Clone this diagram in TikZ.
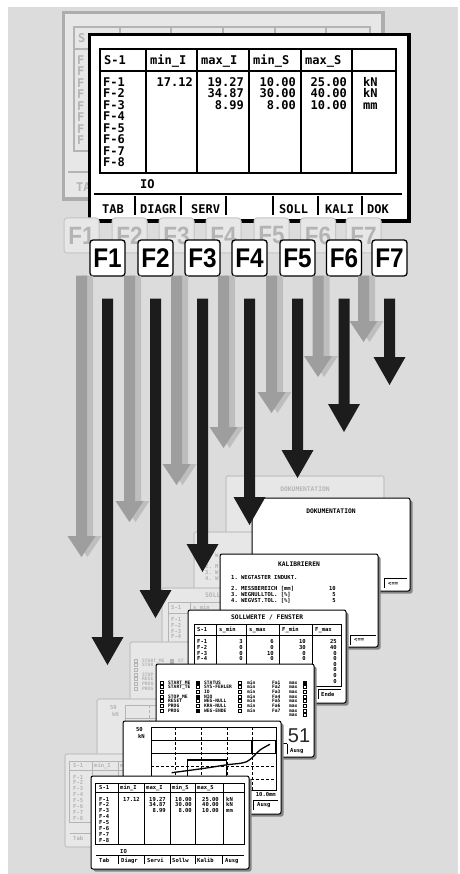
\documentclass[tikz,border=0pt]{standalone}
\usepackage{fontspec}
\usetikzlibrary{calc}
\newfontfamily\lcdfam{DejaVu Sans Mono}
\newfontfamily\keyfam[FakeStretch=0.9]{Liberation Sans}
\newfontfamily\numfam{Liberation Sans}
\definecolor{bgc}{HTML}{DCDCDC}
\definecolor{fadefill}{HTML}{E7E7E7}
\definecolor{fadeline}{HTML}{C4C4C4}
\definecolor{fadeink}{HTML}{B4B4B4}
\definecolor{topfadeframe}{HTML}{ADADAD}
\definecolor{shadowc}{HTML}{858585}
\definecolor{arrowblack}{HTML}{1C1C1C}
\definecolor{arrowgray}{HTML}{9E9E9E}
\definecolor{arrowlight}{HTML}{BEBEBE}
\colorlet{ink}{black}
\newif\iffadedmode
\newcommand\fTop{\lcdfam\bfseries\fontsize{12}{14}\selectfont}
\newcommand\fSmall{\lcdfam\bfseries\fontsize{5.5}{6}\selectfont}
\newcommand\fTitle{\lcdfam\bfseries\fontsize{6.3}{7}\selectfont}
\newcommand\fKal{\lcdfam\bfseries\fontsize{5.5}{6}\selectfont}
\newcommand\fStat{\lcdfam\bfseries\fontsize{4.6}{5}\selectfont}
\newcommand\fKeyFront{\keyfam\bfseries\fontsize{27}{27}\selectfont}
\newcommand\fKeyFade{\keyfam\bfseries\fontsize{25}{25}\selectfont}
\newcommand\fBig{\numfam\fontsize{20}{20}\selectfont}
% text node: options, name, x, y, full text, text shown in the faded copy (empty = hidden there)
\newcommand\tx[6]{%
  \iffadedmode
    \if\relax\detokenize{#6}\relax\else\node[#1] (#2) at (#3,{#4}) {#6};\fi
  \else
    \node[#1] (#2) at (#3,{#4}) {#5};
  \fi}
\tikzset{
  lt/.style={inner sep=0pt, anchor=base west, text=ink},
  rt/.style={inner sep=0pt, anchor=base east, text=ink},
  ct/.style={inner sep=0pt, anchor=base, text=ink},
  ln/.style={draw=ink, line width=0.8pt},
  fkey/.style={draw=black, line width=1.3pt, fill=white, rounded corners=3pt,
    minimum width=35pt, minimum height=36pt, inner sep=0pt, font=\fKeyFront},
  fkeyf/.style={draw=fadeline, line width=1pt, fill=fadefill, text=fadeink, rounded corners=3pt,
    minimum width=35pt, minimum height=35pt, inner sep=0pt, font=\fKeyFade},
}
% ---------- screen contents ----------
\newcommand\cTop{%
  \draw[ink, line width=1.2pt] (100,49) rectangle (396,173) (100,71) -- (396,71);
  \foreach \cx in {146,197,249,301,352} {\draw[ink, line width=1.2pt] (\cx,49) -- (\cx,173);}
  \draw[ink, line width=1.2pt] (94,194) -- (402,194);
  \foreach \cx in {135,181,226,273,318,362} {\draw[ink, line width=1.2pt] (\cx,196) -- (\cx,215);}
  \tx{lt,font=\fTop}{h1}{104}{64.4}{S-1}{S}
  \tx{lt,font=\fTop}{h2}{150}{64.4}{min\_I}{}
  \tx{lt,font=\fTop}{h3}{201}{64.4}{max\_I}{}
  \tx{lt,font=\fTop}{h4}{253}{64.4}{min\_S}{}
  \tx{lt,font=\fTop}{h5}{305}{64.4}{max\_S}{}
  \foreach \ii in {1,...,8} {\tx{lt,font=\fTop}{f\ii}{103}{86.1+11.54*(\ii-1)}{F-\ii}{F}}
  \tx{rt,font=\fTop}{a1}{193}{86.1}{17.12}{}
  \tx{rt,font=\fTop}{b1}{244}{86.1}{19.27}{}
  \tx{rt,font=\fTop}{b2}{244}{97.6}{34.87}{}
  \tx{rt,font=\fTop}{b3}{244}{109.2}{8.99}{}
  \tx{rt,font=\fTop}{c1}{296}{86.1}{10.00}{}
  \tx{rt,font=\fTop}{c2}{296}{97.6}{30.00}{}
  \tx{rt,font=\fTop}{c3}{296}{109.2}{8.00}{}
  \tx{rt,font=\fTop}{d1}{347}{86.1}{25.00}{}
  \tx{rt,font=\fTop}{d2}{347}{97.6}{40.00}{}
  \tx{rt,font=\fTop}{d3}{347}{109.2}{10.00}{}
  \tx{lt,font=\fTop}{e1}{363}{86.1}{kN}{}
  \tx{lt,font=\fTop}{e2}{363}{97.6}{kN}{}
  \tx{lt,font=\fTop}{e3}{363}{109.2}{mm}{}
  \tx{lt,font=\fTop}{io}{140}{188.4}{IO}{}
  \tx{lt,font=\fTop}{k1}{102}{213.4}{TAB}{TA}
  \tx{lt,font=\fTop}{k2}{140}{213.4}{DIAGR}{}
  \tx{lt,font=\fTop}{k3}{191}{213.4}{SERV}{}
  \tx{lt,font=\fTop}{k5}{279}{213.4}{SOLL}{}
  \tx{lt,font=\fTop}{k6}{325}{213.4}{KALI}{}
  \tx{lt,font=\fTop}{k7}{367}{213.4}{DOK}{}
}
\newcommand\cDok{%
  \tx{ct,font=\fTitle}{title}{79}{15.3}{DOKUMENTATION}{DOKUMENTATION}
  \draw[ln] (132,80) -- (155,80) (132,80) -- (132,90);
  \tx{lt,font=\fSmall}{back}{136}{87}{<==}{}
}
\newcommand\cKal{%
  \tx{ct,font=\fTitle}{title}{79}{12.3}{KALIBRIEREN}{}
  \tx{lt,font=\fKal}{l1}{11}{25.2}{1.~WEGTASTER INDUKT.}{1.~W}
  \tx{lt,font=\fKal}{l2}{11}{36.2}{2.~MESSBEREICH [mm]}{2.~M}
  \tx{rt,font=\fKal}{v2}{116}{36.2}{10}{}
  \tx{lt,font=\fKal}{l3}{11}{42.2}{3.~WEGNULLTOL. [\%]}{3.~W}
  \tx{rt,font=\fKal}{v3}{116}{42.2}{5}{}
  \tx{lt,font=\fKal}{l4}{11}{48.2}{4.~WEGVST.TOL. [\%]}{4.~W}
  \tx{rt,font=\fKal}{v4}{116}{48.2}{5}{}
  \draw[ln] (130,81) -- (156,81) (130,81) -- (130,91);
  \tx{lt,font=\fSmall}{back}{134}{87}{<==}{}
}
\newcommand\cSol{%
  \tx{lt,font=\fTitle}{title}{43}{9.3}{SOLLWERTE / FENSTER}{SOLLW}
  \draw[ln] (6,14) rectangle (153,76) (6,25) -- (153,25);
  \foreach \cx in {28,58,91,124} {\draw[ln] (\cx,14) -- (\cx,76);}
  \tx{lt,font=\fSmall}{h1}{9}{21.8}{S-1}{S-1}
  \tx{lt,font=\fSmall}{h2}{31}{21.8}{s\_min}{s\_min}
  \tx{lt,font=\fSmall}{h3}{61}{21.8}{s\_max}{}
  \tx{lt,font=\fSmall}{h4}{94}{21.8}{F\_min}{}
  \tx{lt,font=\fSmall}{h5}{127}{21.8}{F\_max}{}
  \foreach \ii/\va/\vb/\vc/\vd in {1/3/6/10/25,2/0/0/30/40,3/0/10/0/0,4/0/0/0/0} {
    \tx{lt,font=\fSmall}{f\ii}{9}{33.8+5.6*(\ii-1)}{F-\ii}{F-\ii}
    \tx{rt,font=\fSmall}{a\ii}{55}{33.8+5.6*(\ii-1)}{\va}{}
    \tx{rt,font=\fSmall}{b\ii}{86}{33.8+5.6*(\ii-1)}{\vb}{}
    \tx{rt,font=\fSmall}{c\ii}{118}{33.8+5.6*(\ii-1)}{\vc}{}
    \tx{rt,font=\fSmall}{d\ii}{149}{33.8+5.6*(\ii-1)}{\vd}{}
  }
  \foreach \ii in {5,...,8} {
    \tx{rt,font=\fSmall}{d\ii}{149}{33.8+5.6*(\ii-1)}{0}{}
  }
  \draw[ln] (130,79) -- (153,79) (130,79) -- (130,89);
  \tx{lt,font=\fSmall}{ende}{133}{86}{Ende}{}
}
\newcommand\cSta{%
  \foreach \ii in {1,...,7} {
    \draw[ink, line width=0.5pt] (4.2,{18.3+4.7*(\ii-1)-1.5}) rectangle ++(3,3);
    \draw[ink, line width=0.5pt] (40.5,{18.3+4.7*(\ii-1)-1.5}) rectangle ++(3,3);
  }
  \foreach \ii in {1,4,7} {\fill[ink] (40.5,{18.3+4.7*(\ii-1)-1.5}) rectangle ++(3,3);}
  \tx{lt,font=\fStat}{p1}{12}{20.0}{START\_ME}{START\_ME}
  \tx{lt,font=\fStat}{p2}{12}{24.7}{START\_TE}{STAR}
  \tx{lt,font=\fStat}{p4}{12}{34.1}{STOP\_ME}{STOP}
  \tx{lt,font=\fStat}{p5}{12}{38.8}{RESET}{RESE}
  \tx{lt,font=\fStat}{p6}{12}{43.5}{PROG}{PROG}
  \tx{lt,font=\fStat}{p7}{12}{48.2}{PROG}{PROG}
  \tx{lt,font=\fStat}{q1}{48}{20.0}{STATUS}{ST}
  \tx{lt,font=\fStat}{q2}{48}{24.7}{SYS-FEHLER}{}
  \tx{lt,font=\fStat}{q3}{48}{29.4}{IO}{}
  \tx{lt,font=\fStat}{q4}{48}{34.1}{NIO}{}
  \tx{lt,font=\fStat}{q5}{48}{38.8}{WEG-NULL}{}
  \tx{lt,font=\fStat}{q6}{48}{43.5}{KRA-NULL}{}
  \tx{lt,font=\fStat}{q7}{48}{48.2}{WEG-ENDE}{}
  \foreach \ii in {1,...,7} {
    \draw[ink, line width=0.5pt] (82.5,{18.3+4.7*(\ii-1)-1.5}) rectangle ++(3,3);
    \tx{lt,font=\fStat}{m\ii}{91}{18.3+4.7*(\ii-1)+1.7}{min}{}
    \tx{lt,font=\fStat}{g\ii}{116}{18.3+4.7*(\ii-1)+1.7}{Fa\ii}{}
  }
  \foreach \ii in {1,...,8} {
    \tx{lt,font=\fStat}{x\ii}{133}{18.3+4.7*(\ii-1)+1.7}{max}{}
    \draw[ink, line width=0.5pt] (147.5,{18.3+4.7*(\ii-1)-1.5}) rectangle ++(3,3);
  }
  \fill[ink] (147.5,16.8) rectangle ++(3,3);
  \tx{ct,font=\fBig,text=ink!85}{big}{143}{78.5}{51}{}
  \draw[ln] (127,79.5) -- (131,79.5) (131,79.5) -- (131,89.5);
  \tx{lt,font=\fSmall}{ausg}{134}{88}{Ausg}{}
}
\newcommand\cDia{%
  \tx{rt,font=\fSmall}{n50}{20}{10.8}{50}{50}
  \tx{rt,font=\fSmall}{nkN}{22}{17.8}{kN}{kN}
  \draw[ln] (28,6.3) rectangle (153,69.7);
  \draw[ln] (28,19.7) -- (153,19.7) (28,32.3) -- (153,32.3);
  \draw[ln, dash pattern=on 3pt off 2pt] (28,45) -- (153,45) (28,58) -- (153,58);
  \draw[ln, dash pattern=on 3pt off 2pt] (52,6.3) -- (52,69.7) (78,6.3) -- (78,69.7)
     (104,6.3) -- (104,69.7) (129,6.3) -- (129,69.7);
  \draw[ink, line width=1.5pt] (129,19.7) rectangle (153,32.3);
  \draw[ink, line width=1.5pt] (64.7,39) rectangle (103.7,64);
  \draw[ink, line width=1.3pt] plot[smooth] coordinates {(48.7,51.7) (80,47.5) (103.7,43.8) (123.7,40.7) (137,29) (147,23.3)};
  \tx{rt,font=\fSmall}{mm}{153}{75.8}{10.0mm}{}
  \draw[ln] (130,79) -- (155,79) (130,79) -- (130,89);
  \tx{lt,font=\fSmall}{ausg}{134}{85.8}{Ausg}{}
}
\newcommand\cTab{%
  \draw[ln] (4,7) rectangle (153,68) (4,16) -- (153,16);
  \foreach \cx in {27,53,79,104,132} {\draw[ln] (\cx,7) -- (\cx,68);}
  \tx{lt,font=\fSmall}{h1}{8}{13.5}{S-1}{S-1}
  \tx{lt,font=\fSmall}{h2}{29}{13.5}{min\_I}{min\_I}
  \tx{lt,font=\fSmall}{h3}{55}{13.5}{max\_I}{m}
  \tx{lt,font=\fSmall}{h4}{81}{13.5}{min\_S}{}
  \tx{lt,font=\fSmall}{h5}{106}{13.5}{max\_S}{}
  \foreach \ii in {1,...,8} {\tx{lt,font=\fSmall}{f\ii}{8}{25+5.9*(\ii-1)}{F-\ii}{F-\ii}}
  \tx{rt,font=\fSmall}{a1}{49}{25}{17.12}{}
  \tx{rt,font=\fSmall}{b1}{75}{25}{19.27}{}
  \tx{rt,font=\fSmall}{b2}{75}{30.9}{34.87}{}
  \tx{rt,font=\fSmall}{b3}{75}{36.8}{8.99}{}
  \tx{rt,font=\fSmall}{c1}{101}{25}{10.00}{}
  \tx{rt,font=\fSmall}{c2}{101}{30.9}{30.00}{}
  \tx{rt,font=\fSmall}{c3}{101}{36.8}{8.00}{}
  \tx{rt,font=\fSmall}{d1}{128}{25}{25.00}{}
  \tx{rt,font=\fSmall}{d2}{128}{30.9}{40.00}{}
  \tx{rt,font=\fSmall}{d3}{128}{36.8}{10.00}{}
  \tx{lt,font=\fSmall}{e1}{135}{25}{kN}{}
  \tx{lt,font=\fSmall}{e2}{135}{30.9}{kN}{}
  \tx{lt,font=\fSmall}{e3}{135}{36.8}{mm}{}
  \tx{lt,font=\fSmall}{io}{29}{77}{IO}{}
  \draw[ln] (5,79) -- (153,79);
  \foreach \cx in {27,53,79,104,131} {\draw[ln] (\cx,80) -- (\cx,88);}
  \tx{lt,font=\fSmall}{s1}{8}{86}{Tab}{Tab}
  \tx{lt,font=\fSmall}{s2}{30}{86}{Diagr}{}
  \tx{lt,font=\fSmall}{s3}{56}{86}{Servi}{}
  \tx{lt,font=\fSmall}{s4}{81}{86}{Sollw}{}
  \tx{lt,font=\fSmall}{s5}{106}{86}{Kalib}{}
  \tx{lt,font=\fSmall}{s6}{134}{86}{Ausg}{}
}
\newcommand\frontscr[4]{%
  \begin{scope}[shift={(#1,#2)}, name prefix=#3-]
    \fill[shadowc, rounded corners=2pt] (2.5,2.5) rectangle (160.5,95.5);
    \filldraw[fill=white, draw=black, line width=1pt, rounded corners=2pt] (0,0) rectangle (158,93);
    #4
  \end{scope}}
\newcommand\fadescr[4]{%
  \begin{scope}[shift={(#1-26,#2-22)}, name prefix=#3-]
    \fadedmodetrue
    \colorlet{ink}{fadeink}
    \filldraw[fill=fadefill, draw=fadeline, line width=1.2pt, rounded corners=2pt] (0,0) rectangle (158,93);
    #4
  \end{scope}}
\newcommand\arrowshape[6]{%
  \fill[#1] let \p1=(#2), \p2=(#3) in
    (\x2-#4,\y1) -- (\x2+#4,\y1) -- (\x2+#4,\y2+#6) -- (\x2+#5,\y2+#6) -- (\x2,\y2)
    -- (\x2-#5,\y2+#6) -- (\x2-#4,\y2+#6) -- cycle;}
\begin{document}
\begin{tikzpicture}[x=1pt,y=-1pt]
\useasboundingbox (0,0) rectangle (459,874);
\fill[white] (0,0) rectangle (459,874);
\fill[bgc] (8,7) rectangle (458,874);
% ---------- top screens ----------
\begin{scope}[shift={(-26,-22)}, name prefix=ftop-]
  \fadedmodetrue
  \colorlet{ink}{fadeink}
  \fill[fadefill] (89.5,34.5) rectangle (409,221);
  \cTop
  \draw[topfadeframe, line width=3.5pt] (89.5,34.5) rectangle (409,221);
\end{scope}
\begin{scope}[name prefix=top-]
  \fill[white] (89.5,34.5) rectangle (409,221);
  \cTop
  \draw[black, line width=3.8pt] (89.5,34.5) rectangle (409,221);
\end{scope}
% ---------- function keys ----------
\foreach \ii/\xx in {1/107.5,2/155.5,3/202.5,4/249.5,5/297.5,6/344,7/389.5} {
  \node[fkeyf] (gF\ii) at (\xx-26,235.5) {F\ii};
}
\foreach \ii/\xx in {1/107.5,2/155.5,3/202.5,4/249.5,5/297.5,6/344,7/389.5} {
  \node[fkey] (F\ii) at (\xx,258) {F\ii};
}
% ---------- lower screens ----------
\fadescr{252}{498}{fdok}{\cDok}
\fadescr{220}{554}{fkal}{\cKal}
\fadescr{188}{610}{fsol}{\cSol}
\fadescr{156}{664}{fsta}{\cSta}
\fadescr{123}{721}{fdia}{\cDia}
\fadescr{91}{776}{ftab}{\cTab}
\frontscr{252}{498}{dok}{\cDok}
\frontscr{220}{554}{kal}{\cKal}
\frontscr{188}{610}{sol}{\cSol}
\frontscr{156}{664}{sta}{\cSta}
\frontscr{123}{721}{dia}{\cDia}
\frontscr{91}{776}{tab}{\cTab}
% ---------- arrows ----------
\foreach \ii/\yy in {1/557,2/522,3/485,4/448,5/413,6/377,7/342} {
  \coordinate (gs\ii) at ([yshift=-22pt]gF\ii.south);
  \coordinate (gt\ii) at (gs\ii |- 0,\yy);
  \coordinate (gsl\ii) at ([xshift=6pt]gs\ii);
  \coordinate (gtl\ii) at ([xshift=6pt]gt\ii);
  \arrowshape{arrowlight}{gsl\ii}{gtl\ii}{5.5pt}{14pt}{21pt}
  \arrowshape{arrowgray}{gs\ii}{gt\ii}{5.5pt}{14pt}{21pt}
}
\foreach \ii/\yy in {1/665,2/618,3/572,4/525,5/478,6/432,7/385} {
  \coordinate (bs\ii) at ([yshift=-22pt]F\ii.south);
  \coordinate (bt\ii) at (bs\ii |- 0,\yy);
  \arrowshape{arrowblack}{bs\ii}{bt\ii}{5.5pt}{16pt}{28pt}
}
\end{tikzpicture}
\end{document}
